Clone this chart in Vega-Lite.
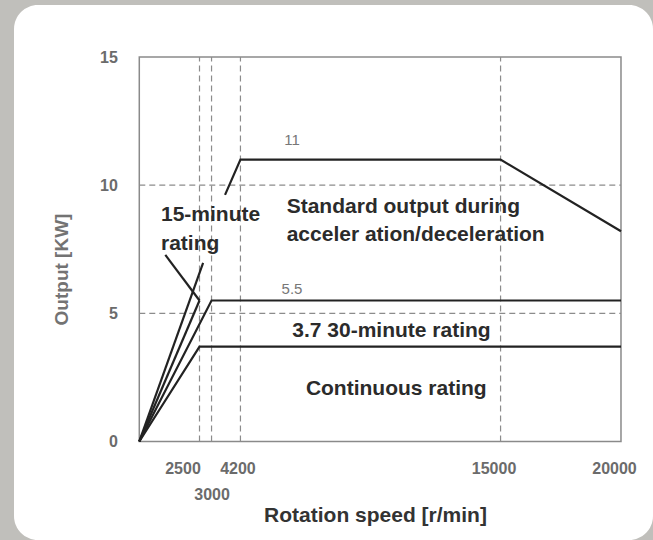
{
  "$schema": "https://vega.github.io/schema/vega-lite/v6.json",
  "width": 639,
  "height": 535,
  "autosize": {"type": "none"},
  "padding": {"left": 14, "top": 5, "right": 0, "bottom": 0},
  "background": "#c0bfbb",
  "config": {
    "view": {"fill": "white", "stroke": null, "cornerRadius": 24},
    "font": "Liberation Sans"
  },
  "datasets": {
    "frame": [{"x": 0, "x2": 20000, "y": 0, "y2": 15}],
    "vgrid": [{"x": 2500}, {"x": 3000}, {"x": 4200}, {"x": 15000}],
    "hgrid": [{"y": 5}, {"y": 10}],
    "lines": [
      {"s": "std", "o": 1, "x": 3560, "y": 9.62},
      {"s": "std", "o": 2, "x": 4200, "y": 11},
      {"s": "std", "o": 3, "x": 15000, "y": 11},
      {"s": "std", "o": 4, "x": 20000, "y": 8.2},
      {"s": "lead", "o": 1, "x": 0, "y": 0},
      {"s": "lead", "o": 2, "x": 2650, "y": 6.97},
      {"s": "r15", "o": 1, "x": 0, "y": 0},
      {"s": "r15", "o": 2, "x": 2500, "y": 5.5},
      {"s": "ptr", "o": 1, "x": 1080, "y": 7.28},
      {"s": "ptr", "o": 2, "x": 2500, "y": 5.5},
      {"s": "r30", "o": 1, "x": 0, "y": 0},
      {"s": "r30", "o": 2, "x": 3000, "y": 5.5},
      {"s": "r30", "o": 3, "x": 20000, "y": 5.5},
      {"s": "cont", "o": 1, "x": 0, "y": 0},
      {"s": "cont", "o": 2, "x": 2500, "y": 3.7},
      {"s": "cont", "o": 3, "x": 20000, "y": 3.7}
    ],
    "notesLeft": [
      {"label": "Standard output during", "x": 6120, "y": 8.91},
      {"label": "acceler ation/deceleration", "x": 6120, "y": 7.83},
      {"label": "15-minute", "x": 901, "y": 8.61},
      {"label": "rating", "x": 901, "y": 7.47}
    ],
    "notesRight": [
      {"label": "3.7 30-minute rating", "x": 14590, "y": 4.09},
      {"label": "Continuous rating", "x": 14424, "y": 1.81}
    ],
    "values": [
      {"label": "11", "x": 6340, "y": 11.76},
      {"label": "5.5", "x": 6340, "y": 5.95}
    ]
  },
  "layer": [
    {
      "data": {"name": "frame"},
      "mark": {"type": "rect", "fill": null, "stroke": "#8a8a8a", "strokeWidth": 1.5},
      "encoding": {
        "x": {
          "field": "x", "type": "quantitative",
          "scale": {"domain": [-5202, 21329], "nice": false, "zero": false},
          "axis": {
            "values": [2500, 3000, 4200, 15000, 20000],
            "format": "d",
            "offset": -98.5,
            "domain": false, "ticks": false, "grid": false,
            "labelFont": "Liberation Sans", "labelFontWeight": "bold", "labelFontSize": 16, "labelColor": "#6b6b6b",
            "labelPadding": {"condition": {"test": "datum.value == 3000", "value": 45}, "value": 19},
            "labelOffset": {"condition": [{"test": "datum.value == 2500", "value": -17}, {"test": "datum.value == 3000", "value": 0}, {"test": "datum.value == 4200", "value": -3}], "value": -7},
            "labelOverlap": false, "labelFlush": false,
            "title": "Rotation speed [r/min]",
            "titleFont": "Liberation Sans", "titleFontSize": 21, "titleFontWeight": "bold", "titleColor": "#333333",
            "titleX": 361, "titleY": 80, "titleBaseline": "alphabetic", "titleAlign": "center"
          }
        },
        "x2": {"field": "x2"},
        "y": {
          "field": "y", "type": "quantitative",
          "scale": {"domain": [-3.843, 17.029], "nice": false, "zero": false},
          "axis": {
            "values": [0, 5, 10, 15],
            "offset": -125.3,
            "domain": false, "ticks": false, "grid": false,
            "labelFont": "Liberation Sans", "labelFontWeight": "bold", "labelFontSize": 16, "labelColor": "#6b6b6b",
            "labelPadding": 22, "labelOverlap": false, "labelFlush": false,
            "title": "Output [KW]",
            "titleFont": "Liberation Sans", "titleFontSize": 19, "titleFontWeight": "bold", "titleColor": "#737373",
            "titleX": -77.6, "titleY": 264, "titleBaseline": "middle", "titleAlign": "center", "titleAngle": -90
          }
        },
        "y2": {"field": "y2"}
      }
    },
    {
      "data": {"name": "vgrid"},
      "mark": {"type": "rule", "color": "#8c8c8c", "strokeWidth": 1.2, "strokeDash": [6, 4]},
      "encoding": {
        "x": {"field": "x", "type": "quantitative"},
        "y": {"datum": 0, "type": "quantitative"},
        "y2": {"datum": 15}
      }
    },
    {
      "data": {"name": "hgrid"},
      "mark": {"type": "rule", "color": "#8c8c8c", "strokeWidth": 1.2, "strokeDash": [6, 4]},
      "encoding": {
        "y": {"field": "y", "type": "quantitative"},
        "x": {"datum": 0, "type": "quantitative"},
        "x2": {"datum": 20000}
      }
    },
    {
      "data": {"name": "lines"},
      "mark": {"type": "line", "color": "#222222", "strokeWidth": 2.2},
      "encoding": {
        "x": {"field": "x", "type": "quantitative"},
        "y": {"field": "y", "type": "quantitative"},
        "detail": {"field": "s", "type": "nominal"},
        "order": {"field": "o", "type": "quantitative"}
      }
    },
    {
      "data": {"name": "notesLeft"},
      "mark": {"type": "text", "align": "left", "baseline": "alphabetic", "font": "Liberation Sans", "fontWeight": "bold", "fontSize": 21, "color": "#2b2b2b"},
      "encoding": {
        "x": {"field": "x", "type": "quantitative"},
        "y": {"field": "y", "type": "quantitative"},
        "text": {"field": "label"}
      }
    },
    {
      "data": {"name": "notesRight"},
      "mark": {"type": "text", "align": "right", "baseline": "alphabetic", "font": "Liberation Sans", "fontWeight": "bold", "fontSize": 21, "color": "#2b2b2b"},
      "encoding": {
        "x": {"field": "x", "type": "quantitative"},
        "y": {"field": "y", "type": "quantitative"},
        "text": {"field": "label"}
      }
    },
    {
      "data": {"name": "values"},
      "mark": {"type": "text", "align": "center", "baseline": "middle", "font": "Liberation Sans", "fontSize": 15, "color": "#777777"},
      "encoding": {
        "x": {"field": "x", "type": "quantitative"},
        "y": {"field": "y", "type": "quantitative"},
        "text": {"field": "label"}
      }
    }
  ]
}
